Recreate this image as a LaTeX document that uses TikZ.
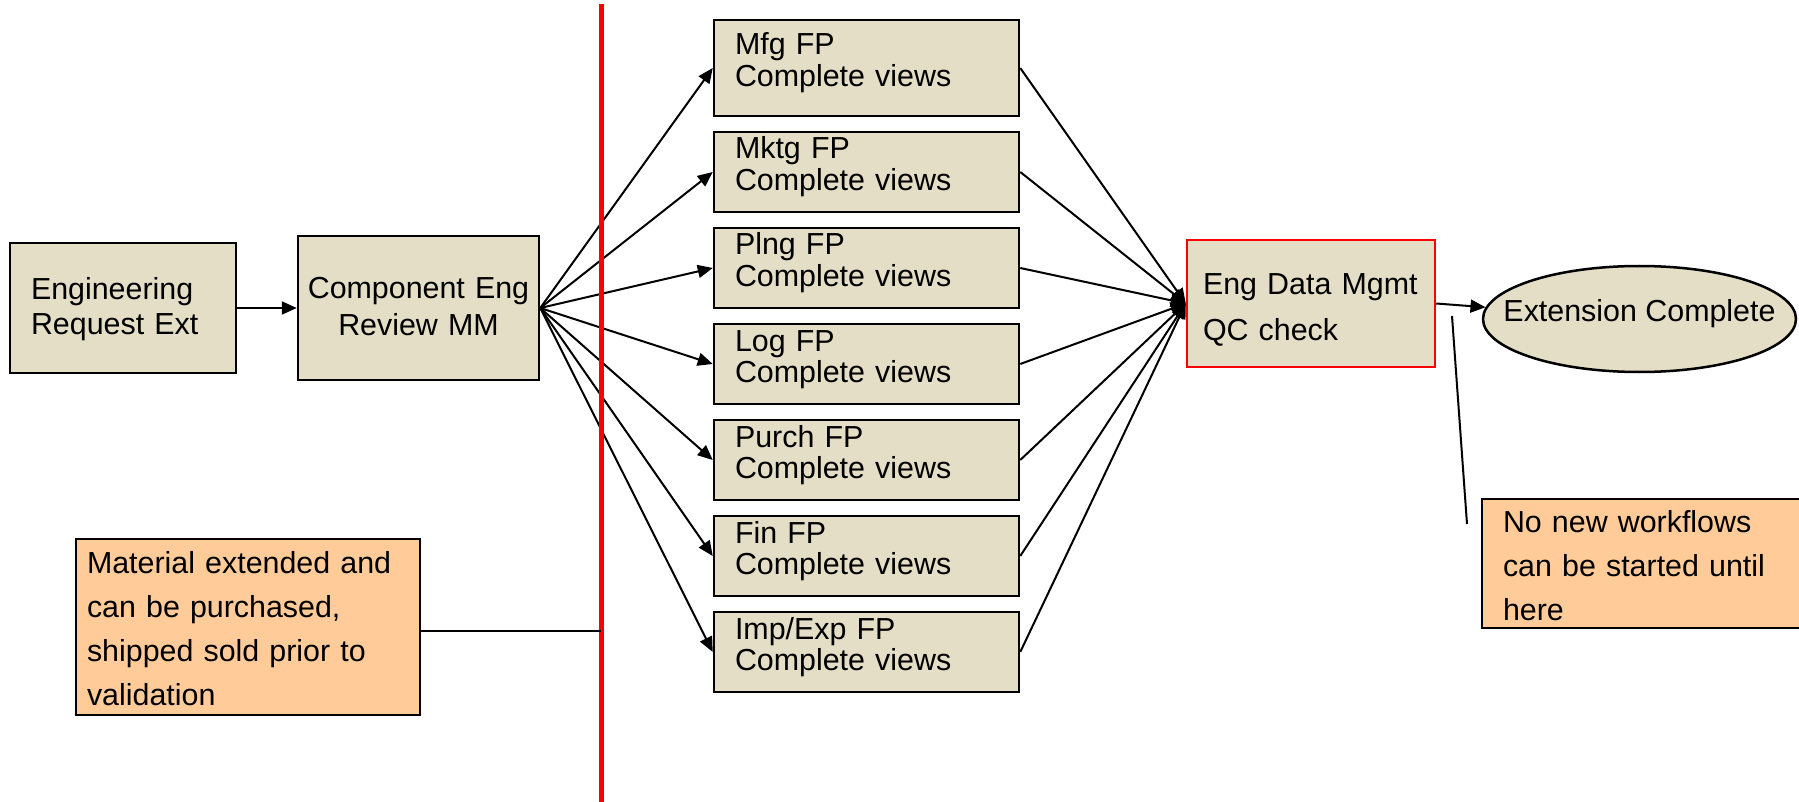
\documentclass[tikz,border=0pt]{standalone}
\usepackage{fontspec}
\setmainfont{Liberation Sans}
\usetikzlibrary{positioning}
\usetikzlibrary{shapes.geometric}
\usetikzlibrary{arrows.meta}
\definecolor{stepfill}{RGB}{227,222,197}
\definecolor{notefill}{RGB}{255,204,153}
\tikzset{
    % Solid triangular heads, as on the slide
    >={Triangle[length=15pt,width=13pt]},
%
    % Connectors between the steps
    flow line/.style={line width=2pt},
%
    % The common look of a step in the flow
    flow box/.style={
        draw, line width=2.5pt, fill=stepfill, rectangle,
        inner ysep=0pt, text height=22pt, align=left},
%
    % One of the functional views that run side by side
    fp box/.style={
        flow box, inner xsep=21pt, text width=263pt,
        minimum height=80pt, text depth=48pt,
        font=\fontsize{30.4pt}{31.5pt}\selectfont},
%
    % Orange remarks at the side of the flow
    note box/.style={
        draw, line width=2.5pt, fill=notefill, rectangle,
        inner ysep=0pt, text height=22pt, align=left,
        font=\fontsize{30.4pt}{44pt}\selectfont}}

\begin{document}
\begin{tikzpicture}[x=1pt, y=-1pt]
\useasboundingbox (0,0) rectangle (1799,802);

\node [flow box, inner xsep=21pt, text width=184pt,
    minimum height=130pt, text depth=38pt,
    font=\fontsize{30.4pt}{35pt}\selectfont]
    (eng req) at (123,308) {Engineering\\Request Ext};

\node [flow box, align=center, inner xsep=5pt, text width=231pt,
    minimum height=144pt, text depth=40pt,
    font=\fontsize{30.4pt}{36pt}\selectfont]
    (comp rev) at (418.5,308) {Component Eng\\Review MM};

% The views, one under the other
\node [fp box, minimum height=96pt] (fp mfg) at (866.5,68) {Mfg FP\\Complete views};
\foreach \nm/\lbl [count=\i] in {mktg/Mktg, plng/Plng, log/Log, purch/Purch, fin/Fin, imp/{Imp/Exp}}
    \node [fp box] (fp \nm) at (866.5,76+96*\i) {\lbl{} FP\\Complete views};

\node [flow box, draw=red, inner xsep=16pt, text width=216pt,
    minimum height=127pt, text depth=39pt,
    font=\fontsize{30.4pt}{45pt}\selectfont]
    (edm qc) at (1311,303.5) {Eng Data Mgmt\\QC check};

% The text is boxed to no width, so that the ellipse keeps its own size
\node [draw, line width=2.5pt, fill=stepfill, ellipse, inner sep=0pt,
    minimum width=313pt, minimum height=106pt,
    text height=22pt, text depth=18pt,
    font=\fontsize{30.4pt}{36pt}\selectfont]
    (ext done) at (1639.5,319) {\makebox[0pt]{Extension Complete}};

\draw [->, flow line] (eng req) -- (comp rev);
\foreach \nm in {mfg, mktg, plng, log, purch, fin, imp} {
    \draw [->, flow line] (comp rev.east) -- (fp \nm.west);
    \draw [->, flow line] (fp \nm.east) -- (edm qc.west);
}
\draw [->, flow line] (edm qc.east) -- (ext done);

\node [note box, inner xsep=11pt, text width=322pt,
    minimum height=176pt, text depth=130pt]
    (mat note) at (248,627)
    {Material extended and\\can be purchased,\\shipped sold prior to\\validation};

\node [note box, inner xsep=21pt, text width=278pt,
    minimum height=129pt, text depth=85pt]
    (wf note) at (1642,563.5)
    {No new workflows\\can be started until\\here};

% The cut-off line and the remarks pointing at it
\coordinate (cut top) at (601,4);
\coordinate (cut bottom) at (601,802);
\draw [red, line width=5pt] (cut top) -- (cut bottom);
\draw [flow line] ([yshift=-4pt]mat note.east) -- ([yshift=-4pt]mat note.east -| cut top);

\coordinate (wf top) at (1452,316);
\coordinate (wf end) at (1467,524);
\draw [flow line] (wf top) -- (wf end);

\end{tikzpicture}
\end{document}
